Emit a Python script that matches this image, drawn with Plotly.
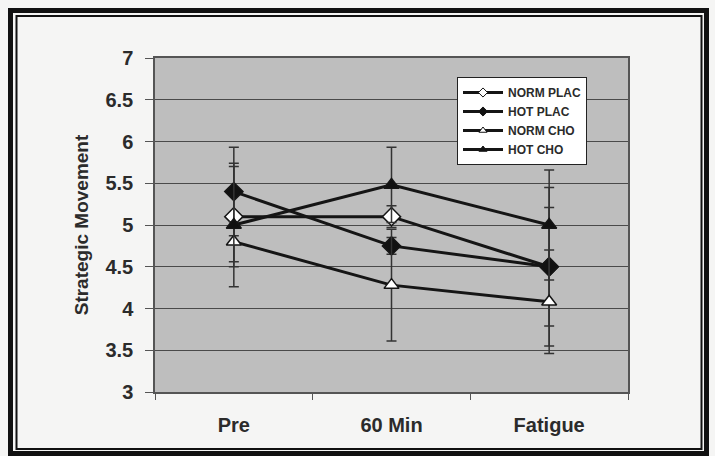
import plotly.graph_objects as go

# datos
categories = ["Pre", "60 Min", "Fatigue"]

norm_plac = [5.1, 5.1, 4.5]
norm_plac_err = [0.6, 0.13, 0.95]

hot_plac = [5.4, 4.75, 4.5]
hot_plac_err = [0.53, 0.1, 0.71]

norm_cho = [4.8, 4.28, 4.08]
norm_cho_err = [0.24, 0.67, 0.62]

hot_cho = [5.0, 5.48, 5.0]
hot_cho_err = [0.74, 0.45, 0.66]

y_ticks = [3, 3.5, 4, 4.5, 5, 5.5, 6, 6.5, 7]

W, H = 715, 456
L, R, T, B = 155, 628, 58, 392
TXT = "#2b2b2b"


def px_x(p):
    return (p - L) / (R - L)


def px_y(p):
    return (B - p) / (B - T)


fig = go.Figure()

series = [
    ("NORM PLAC", norm_plac, norm_plac_err, "diamond", "white", 14),
    ("HOT PLAC", hot_plac, hot_plac_err, "diamond", "#111111", 14),
    ("NORM CHO", norm_cho, norm_cho_err, "triangle-up", "white", 13),
    ("HOT CHO", hot_cho, hot_cho_err, "triangle-up", "#111111", 13),
]

for name, vals, errs, sym, fill, size in series:
    fig.add_trace(go.Scatter(
        x=categories,
        y=vals,
        name=name,
        mode="lines+markers",
        showlegend=False,
        line=dict(color="#151515", width=3),
        marker=dict(symbol=sym, size=size, color=fill,
                    line=dict(color="#151515", width=1.5)),
        error_y=dict(type="data", array=errs, visible=True,
                     color="#333333", thickness=1.5, width=5),
    ))

# entradas de leyenda con marcadores mas chicos (como en el original)
for name, vals, errs, sym, fill, size in series:
    fig.add_trace(go.Scatter(
        x=[None], y=[None],
        name=name,
        mode="lines+markers",
        line=dict(color="#151515", width=3),
        marker=dict(symbol=sym, size=7, color=fill,
                    line=dict(color="#151515", width=1)),
    ))

# marco doble alrededor de la imagen
fig.add_shape(type="rect", xref="paper", yref="paper",
              x0=px_x(10.5), x1=px_x(706.5), y0=px_y(453.5), y1=px_y(10.5),
              line=dict(color="#111111", width=5), layer="above")
fig.add_shape(type="rect", xref="paper", yref="paper",
              x0=px_x(16.5), x1=px_x(701.5), y0=px_y(449), y1=px_y(16),
              line=dict(color="#111111", width=2), layer="above")

fig.update_layout(
    width=W, height=H,
    margin=dict(l=L, r=W - R, t=T, b=H - B),
    paper_bgcolor="#f5f5f4",
    plot_bgcolor="#bebebe",
    font=dict(family="Liberation Sans, Arial, sans-serif", color=TXT,
              weight="bold"),
    showlegend=True,
    legend=dict(
        x=px_x(457), y=px_y(77), xanchor="left", yanchor="top",
        bgcolor="white", bordercolor="#222222", borderwidth=1,
        font=dict(size=12, color=TXT, weight="bold"),
        tracegroupgap=0, itemwidth=40,
    ),
)

fig.update_xaxes(
    type="category",
    range=[-0.5, 2.5],
    tickfont=dict(size=20, color=TXT, weight="bold"),
    ticks="outside", ticklen=6, tickcolor="#555555",
    tickson="boundaries",
    ticklabelstandoff=14,
    showline=True, linecolor="#555555", linewidth=1.5, mirror=True,
    showgrid=False,
)

fig.update_yaxes(
    range=[3, 7],
    tickvals=y_ticks,
    tickfont=dict(size=20, color=TXT, weight="bold"),
    ticks="outside", ticklen=8, tickcolor="#555555",
    ticklabelstandoff=8,
    showline=True, linecolor="#555555", linewidth=1.5, mirror=True,
    showgrid=True, gridcolor="#4a4a4a", gridwidth=1,
    zeroline=False,
    title=dict(text="Strategic Movement", standoff=12,
               font=dict(size=19, color=TXT, weight="bold")),
)

# la pagina trae margen de 8px en el body; lo quitamos
fig.write_html("out.html", config={"displayModeBar": False},
               post_script="document.body.style.margin='0';")
